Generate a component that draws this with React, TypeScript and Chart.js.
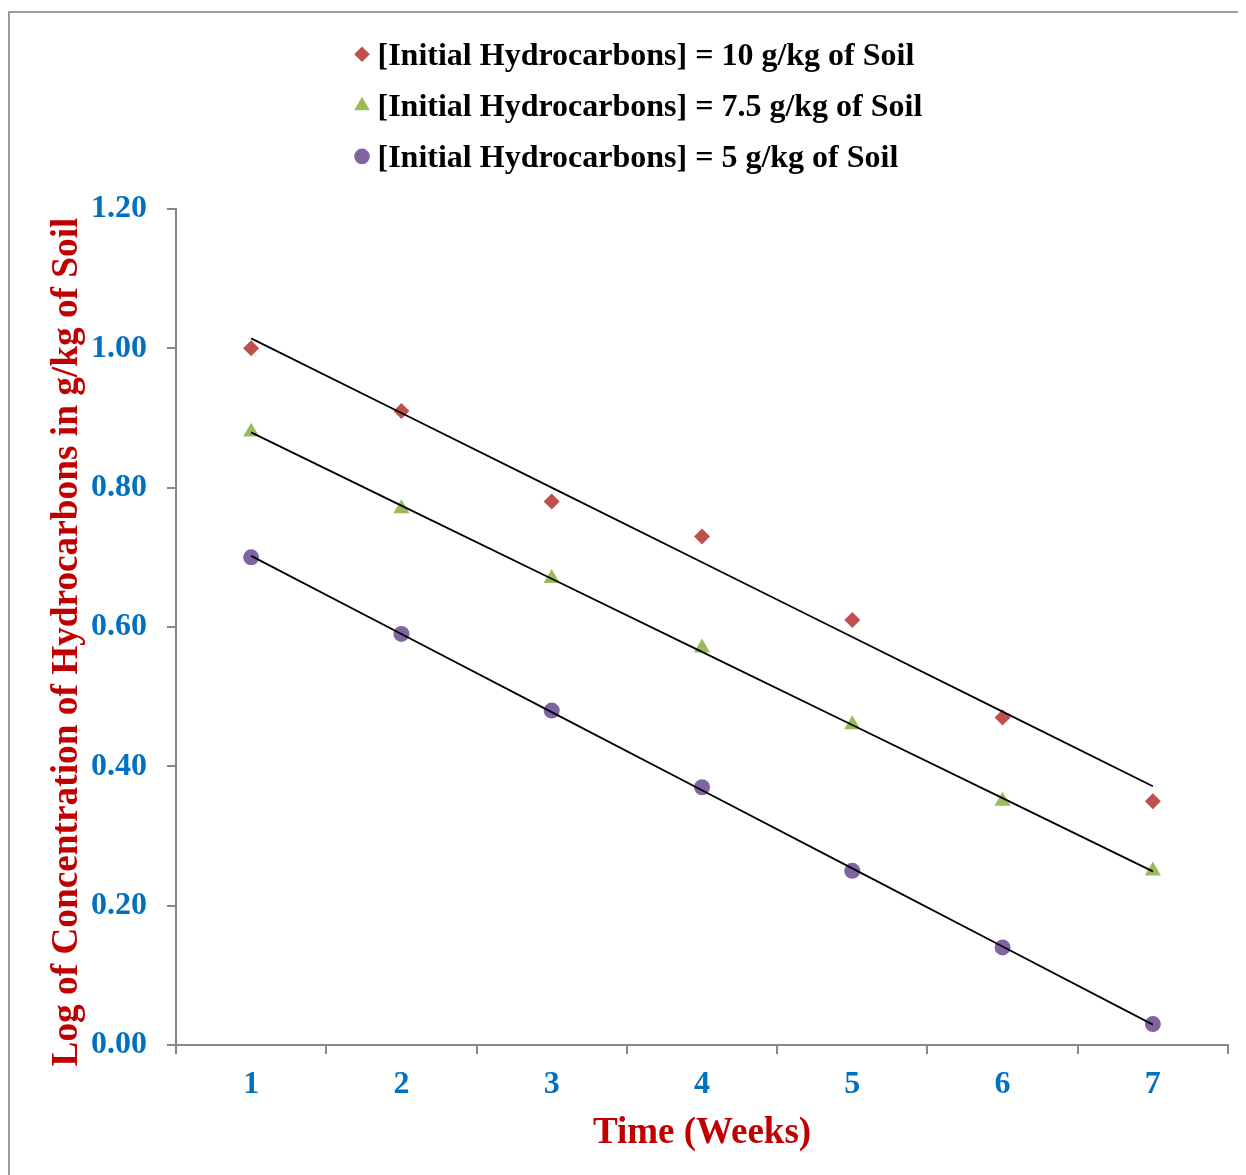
import React, { useEffect, useRef } from 'react';
import { Chart, registerables } from 'chart.js';

Chart.register(...registerables);

// ---- data ----
const weeks = ['1', '2', '3', '4', '5', '6', '7'];
const conc10 = [1.0, 0.91, 0.78, 0.73, 0.61, 0.47, 0.35];
const conc75 = [0.88, 0.77, 0.67, 0.57, 0.46, 0.35, 0.25];
const conc5 = [0.7, 0.59, 0.48, 0.37, 0.25, 0.14, 0.03];
const seriesLabels = [
  '[Initial Hydrocarbons] = 10 g/kg of Soil',
  '[Initial Hydrocarbons] = 7.5 g/kg of Soil',
  '[Initial Hydrocarbons] = 5 g/kg of Soil',
];
const seriesColors = ['#C0504D', '#9BBB59', '#8064A2'];
const seriesStyles = ['rectRot', 'triangle', 'circle'];
const yMin = 0;
const yMax = 1.2;
const yStep = 0.2;
const xTitle = 'Time (Weeks)';
const yTitle = 'Log of Concentration of Hydrocarbons in g/kg of Soil';

const FONT = '"Liberation Serif", "Times New Roman", serif';

// least-squares linear trendline (as in the spreadsheet trendline)
function linearFit(ys: number[]): number[] {
  const n = ys.length;
  const xs = ys.map((_, i) => i + 1);
  const mx = xs.reduce((a, b) => a + b, 0) / n;
  const my = ys.reduce((a, b) => a + b, 0) / n;
  let sxy = 0;
  let sxx = 0;
  for (let i = 0; i < n; i++) {
    sxy += (xs[i] - mx) * (ys[i] - my);
    sxx += (xs[i] - mx) * (xs[i] - mx);
  }
  const slope = sxy / sxx;
  const icpt = my - slope * mx;
  return xs.map((x) => icpt + slope * x);
}

function drawMarker(ctx: CanvasRenderingContext2D, style: string, x: number, y: number, r: number, color: string) {
  ctx.fillStyle = color;
  ctx.beginPath();
  if (style === 'rectRot') {
    ctx.moveTo(x, y - r);
    ctx.lineTo(x + r, y);
    ctx.lineTo(x, y + r);
    ctx.lineTo(x - r, y);
    ctx.closePath();
  } else if (style === 'triangle') {
    const h = r * 0.866;
    ctx.moveTo(x, y - r);
    ctx.lineTo(x + h, y + r / 2);
    ctx.lineTo(x - h, y + r / 2);
    ctx.closePath();
  } else {
    ctx.arc(x, y, r, 0, Math.PI * 2);
  }
  ctx.fill();
}

const decorPlugin = {
  id: 'decor',
  afterDraw(chart: any) {
    const ctx: CanvasRenderingContext2D = chart.ctx;
    ctx.save();
    // outer frame (top and left edges visible)
    ctx.fillStyle = '#9c9c9c';
    ctx.fillRect(0, 3, chart.width, 2);
    ctx.fillRect(0, 3, 2, chart.height);

    // legend
    const baselines = [56.5, 108, 158.7];
    ctx.font = `bold 32px ${FONT}`;
    ctx.textAlign = 'left';
    ctx.textBaseline = 'alphabetic';
    seriesLabels.forEach((label, i) => {
      const b = baselines[i];
      const r = seriesStyles[i] === 'triangle' ? 9 : 7.8;
      drawMarker(ctx, seriesStyles[i], 354, b - 10.3, r, seriesColors[i]);
      ctx.fillStyle = '#000000';
      ctx.fillText(label, 369.5, b);
    });

    // y axis title
    ctx.font = `bold 37.3px ${FONT}`;
    ctx.fillStyle = '#C00000';
    ctx.translate(69, 634);
    ctx.rotate(-Math.PI / 2);
    ctx.textAlign = 'center';
    ctx.textBaseline = 'alphabetic';
    ctx.fillText(yTitle, 0, 0);
    ctx.restore();
  },
};

export default function App() {
  const ref = useRef<HTMLCanvasElement | null>(null);

  useEffect(() => {
    document.documentElement.style.overflow = 'hidden';
    const canvas = ref.current;
    if (!canvas) return;

    const raw = [conc10, conc75, conc5];
    const pointSets = raw.map((d, i) => ({
      type: 'line' as const,
      label: seriesLabels[i],
      data: d,
      showLine: false,
      pointStyle: seriesStyles[i],
      pointRadius: seriesStyles[i] === 'triangle' ? 9.3 : 8,
      pointBackgroundColor: seriesColors[i],
      pointBorderColor: seriesColors[i],
      pointBorderWidth: 0,
      borderColor: seriesColors[i],
      backgroundColor: seriesColors[i],
      order: 2,
    }));
    const trendSets = raw.map((d, i) => ({
      type: 'line' as const,
      label: 'Linear (' + seriesLabels[i] + ')',
      data: linearFit(d),
      borderColor: '#000000',
      borderWidth: 1.8,
      pointRadius: 0,
      tension: 0,
      fill: false,
      order: 1,
    }));

    const chart = new Chart(canvas, {
      type: 'line',
      data: {
        labels: weeks,
        datasets: [...pointSets, ...trendSets] as any,
      },
      options: {
        responsive: false,
        animation: false,
        events: [],
        layout: { padding: { top: 201, right: 18, left: 0, bottom: 0 } },
        plugins: {
          legend: { display: false },
          tooltip: { enabled: false },
          title: { display: false },
        },
        scales: {
          x: {
            type: 'category',
            offset: true,
            grid: {
              offset: true,
              drawOnChartArea: false,
              drawTicks: true,
              tickLength: 9,
              color: '#888888',
              lineWidth: 2,
            },
            border: { display: true, color: '#888888', width: 2 },
            ticks: {
              color: '#0070C0',
              font: { family: FONT, size: 32, weight: 'bold' },
              padding: 12,
              maxRotation: 0,
            },
            title: {
              display: true,
              text: xTitle,
              color: '#C00000',
              font: { family: FONT, size: 37, weight: 'bold' },
              padding: { top: 0, bottom: 19 },
            },
            afterFit: (scale: any) => {
              scale.height = 130;
            },
          },
          y: {
            type: 'linear',
            min: yMin,
            max: yMax,
            grid: {
              drawOnChartArea: false,
              drawTicks: true,
              tickLength: 9,
              color: '#888888',
              lineWidth: 2,
            },
            border: { display: true, color: '#888888', width: 2 },
            ticks: {
              stepSize: yStep,
              color: '#0070C0',
              font: { family: FONT, size: 32, weight: 'bold' },
              padding: 20,
              callback: (v: any) => Number(v).toFixed(2),
            },
            afterFit: (scale: any) => {
              scale.width = 168;
            },
          },
        },
      },
      plugins: [decorPlugin],
    });

    return () => {
      chart.destroy();
    };
  }, []);

  return (
    <div style={{ width: 1238, height: 1167 }}>
      <canvas ref={ref} width={1238} height={1167} style={{ display: 'block' }} />
    </div>
  );
}
